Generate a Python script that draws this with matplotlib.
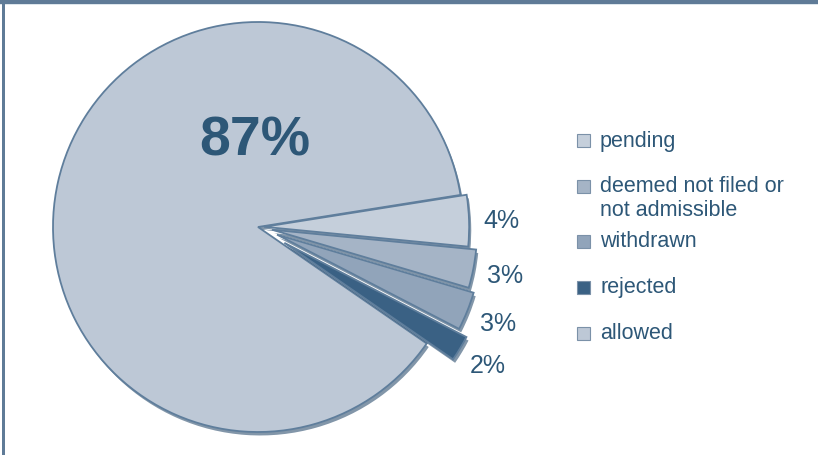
import numpy as np
import matplotlib.pyplot as plt
import matplotlib.patheffects as pe
from matplotlib.patches import Rectangle

# data
categories = ['pending', 'deemed not filed or\nnot admissible', 'withdrawn', 'rejected', 'allowed']
shares = [4, 3, 3, 2, 87]
colors = ['#c5cfdb', '#a5b4c6', '#91a4ba', '#3a6184', '#bdc8d6']
explode = [0.03, 0.07, 0.10, 0.15, 0]

plt.rcParams['font.family'] = ['Liberation Sans', 'DejaVu Sans']
text_color = '#2d5777'

W, H = 818, 456
fig = plt.figure(figsize=(W / 100, H / 100), dpi=100)
ax = fig.add_axes([0, 0, 1, 1])

wedges, _ = ax.pie(shares, colors=colors, explode=explode, startangle=9,
                   counterclock=False,
                   wedgeprops=dict(edgecolor='#5f7e9c', linewidth=1.3))
wedges[-1].set_zorder(0.9)
for w in wedges:
    w.set_path_effects([pe.SimplePatchShadow(offset=(1.5, -2.5), shadow_rgbFace='#2f5070', alpha=0.6),
                        pe.Normal()])

# pie radius = 205 px, centre at (258, 228) px
R = 205
ax.set_xlim(-258 / R, (W - 258) / R)
ax.set_ylim(-(H - 228) / R, 228 / R)
ax.set_aspect('equal')
ax.axis('off')

# percentage labels
for w, v in zip(wedges[:-1], shares[:-1]):
    th = np.deg2rad((w.theta1 + w.theta2) / 2)
    cx, cy = w.center
    ax.text(cx + 1.16 * np.cos(th), cy + 1.16 * np.sin(th), f'{v}%',
            ha='center', va='center', fontsize=18, color=text_color)
ax.text(-0.015, 0.42, f'{shares[-1]}%', ha='center', va='center',
        fontsize=40, fontweight='bold', color=text_color)

# legend drawn by hand
rows_y = [141, 187, 242, 288, 334]
for lab, col, y in zip(categories, colors, rows_y):
    fig.add_artist(Rectangle((577 / W, 1 - (y + 7) / H), 13 / W, 13 / H,
                             transform=fig.transFigure, facecolor=col,
                             edgecolor='#7b91a8', linewidth=0.8))
    for k, line in enumerate(lab.split('\n')):
        fig.text(600 / W, 1 - (y + k * 24) / H, line, ha='left', va='center',
                 fontsize=15.5, color=text_color)

# frame
fig.add_artist(Rectangle((0, 1 - 5 / H), 1, 5 / H, transform=fig.transFigure,
                         facecolor='#5f7b97', edgecolor='none'))
fig.add_artist(Rectangle((0, 1 - 6 / H), 1, 1 / H, transform=fig.transFigure,
                         facecolor='#dde6ec', edgecolor='none'))
fig.add_artist(Rectangle((2 / W, 0), 3 / W, 1, transform=fig.transFigure,
                         facecolor='#5f7b97', edgecolor='none'))

fig.savefig('out.png', dpi=100)
